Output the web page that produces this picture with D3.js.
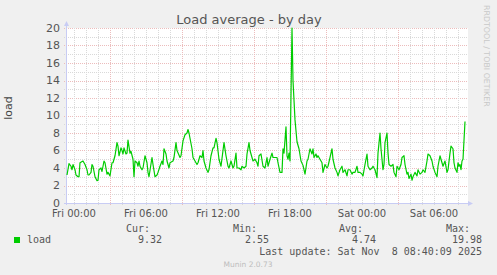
<!DOCTYPE html>
<html lang="en">
<head>
  <meta charset="UTF-8">
  <title>Load average - by day</title>
  <script src="https://d3js.org/d3.v7.min.js"></script>
  <style>
    body { margin: 0; background: #f0f0f0; }
    svg text { font-family: "DejaVu Sans", sans-serif; }
    svg .mono { font-family: "DejaVu Sans Mono", monospace; }
  </style>
</head>
<body>
  <script>
    // load samples: [minutes since Fri 00:00, load]
    var loadSeries = [
      [-35, 3.2], [-25, 4.5], [-15, 4.2], [-10, 3.8], [-5, 4.4], [5, 3.8], [10, 3.2], [20, 3.0], [25, 3.0], [30, 4.6],
      [45, 4.8], [55, 4.4], [65, 3.8], [70, 3.2], [75, 3.2], [85, 3.5], [90, 4.4], [95, 4.2], [105, 3.0], [115, 2.55],
      [120, 2.6], [125, 3.8], [135, 4.0], [140, 3.6], [150, 4.8], [155, 4.6], [165, 3.3], [170, 3.5], [180, 3.1], [190, 4.6],
      [195, 4.6], [205, 5.4], [215, 6.9], [220, 6.5], [225, 5.4], [235, 6.3], [240, 6.0], [245, 5.6], [250, 6.3], [260, 5.6],
      [265, 5.7], [270, 7.2], [280, 5.7], [285, 5.9], [295, 5.0], [300, 3.0], [305, 4.8], [315, 4.6], [320, 4.2], [325, 4.8],
      [330, 4.2], [340, 3.8], [345, 4.0], [355, 5.4], [365, 4.6], [370, 3.5], [375, 3.0], [390, 5.2], [395, 4.4], [405, 3.0],
      [415, 3.2], [420, 3.5], [430, 4.2], [440, 4.8], [445, 4.4], [450, 6.2], [460, 5.6], [465, 4.8], [475, 4.0], [480, 4.6],
      [495, 4.8], [500, 5.2], [510, 6.9], [515, 6.0], [530, 5.2], [535, 5.4], [545, 7.1], [555, 7.8], [565, 8.0], [570, 8.4],
      [575, 8.0], [590, 6.2], [595, 5.2], [605, 4.8], [615, 4.4], [620, 4.6], [630, 5.4], [640, 5.2], [645, 6.0], [650, 4.8],
      [660, 4.0], [670, 3.5], [675, 3.8], [685, 5.4], [695, 6.3], [700, 6.3], [710, 7.4], [715, 6.9], [725, 5.0], [735, 4.2],
      [745, 6.0], [750, 6.9], [760, 5.4], [770, 4.2], [775, 4.0], [785, 4.8], [795, 4.0], [800, 4.2], [810, 5.7], [815, 4.0],
      [825, 4.0], [835, 3.8], [840, 4.2], [850, 4.0], [860, 4.2], [865, 5.6], [875, 6.9], [880, 6.0], [890, 5.2], [895, 4.8],
      [905, 5.0], [915, 4.6], [920, 4.2], [925, 5.4], [935, 5.6], [945, 4.2], [955, 4.0], [965, 5.2], [970, 4.2], [980, 5.0],
      [990, 5.7], [995, 5.2], [1015, 5.2], [1020, 4.6], [1030, 3.5], [1040, 3.5], [1045, 6.2], [1050, 5.7], [1060, 8.7], [1065, 5.4],
      [1070, 5.0], [1075, 5.7], [1080, 4.8], [1090, 19.98], [1095, 14.0], [1105, 9.5], [1115, 7.0], [1125, 6.2], [1135, 4.8], [1145, 4.3],
      [1155, 3.3], [1165, 4.8], [1170, 5.0], [1180, 6.2], [1190, 5.6], [1195, 6.2], [1200, 5.2], [1210, 5.6], [1215, 5.2], [1220, 5.4],
      [1230, 5.0], [1240, 4.6], [1245, 3.5], [1255, 4.4], [1265, 4.0], [1270, 4.2], [1280, 5.2], [1290, 6.2], [1295, 5.0], [1305, 4.0],
      [1315, 3.5], [1320, 3.1], [1330, 3.8], [1340, 4.2], [1345, 3.5], [1355, 3.8], [1365, 3.1], [1370, 3.8], [1380, 3.8], [1390, 3.3],
      [1395, 3.5], [1405, 3.5], [1415, 4.2], [1420, 3.5], [1430, 3.5], [1440, 3.3], [1445, 3.1], [1455, 4.4], [1465, 5.6], [1470, 4.2],
      [1480, 3.8], [1490, 4.0], [1495, 4.2], [1505, 3.8], [1515, 2.9], [1520, 5.7], [1530, 8.0], [1535, 6.2], [1545, 3.8], [1550, 4.4],
      [1555, 6.9], [1565, 8.0], [1570, 5.7], [1575, 4.4], [1585, 4.2], [1595, 4.4], [1600, 3.5], [1610, 3.0], [1615, 4.2], [1625, 3.8],
      [1635, 4.4], [1640, 5.2], [1650, 5.4], [1655, 4.4], [1665, 3.3], [1670, 3.5], [1675, 2.8], [1685, 3.3], [1690, 2.6], [1695, 3.0],
      [1705, 3.5], [1715, 3.1], [1720, 3.8], [1730, 3.3], [1740, 3.5], [1745, 3.8], [1755, 3.5], [1765, 4.8], [1770, 5.6], [1780, 5.4],
      [1790, 4.8], [1795, 4.2], [1805, 3.5], [1815, 3.0], [1820, 4.2], [1830, 5.4], [1840, 4.6], [1845, 4.2], [1855, 4.8], [1865, 3.5],
      [1870, 3.8], [1880, 5.7], [1885, 6.5], [1895, 6.2], [1900, 4.6], [1905, 4.0], [1915, 3.5], [1920, 4.6], [1925, 4.2], [1930, 4.4],
      [1935, 3.8], [1940, 4.8], [1945, 5.0], [1955, 9.32]
    ];
    var yTicks = [0, 2, 4, 6, 8, 10, 12, 14, 16, 18, 20];
    var legendHeads = ["Cur:", "Min:", "Avg:", "Max:"];
    var legendVals = ["9.32", "2.55", "4.74", "19.98"];
    var seriesName = "load";
    var lastUpdate = "Last update: Sat Nov  8 08:40:09 2025";

    var w = 497, h = 275;
    var margin = { top: 28, right: 30, bottom: 72, left: 67 };
    var width = w - margin.left - margin.right,
      height = h - margin.top - margin.bottom;

    var t0 = new Date(2025, 10, 7, 0, 0);
    function tAt(m) { return new Date(t0.getTime() + m * 60000); }

    var x = d3.scaleTime().domain([tAt(-35), tAt(1965)]).range([0, width]);
    var y = d3.scaleLinear().domain([0, 20]).range([height, 0]);

    var svg = d3.select("body").append("svg")
      .attr("width", w)
      .attr("height", h);

    svg.append("rect").attr("width", w).attr("height", h).attr("fill", "#f0f0f0");

    // title + side texts
    svg.append("text")
      .attr("x", 249).attr("y", 24)
      .attr("text-anchor", "middle")
      .attr("font-size", 13)
      .attr("fill", "#555")
      .text("Load average - by day");

    svg.append("text")
      .attr("transform", "translate(12,108) rotate(-90)")
      .attr("text-anchor", "middle")
      .attr("font-size", 11)
      .attr("fill", "#444")
      .text("load");

    svg.append("text")
      .attr("transform", "translate(484,5) rotate(90)")
      .attr("font-size", 7.9)
      .attr("fill", "#c8c8c8")
      .text("RRDTOOL / TOBI OETIKER");

    var g = svg.append("g")
      .attr("transform", "translate(" + margin.left + "," + margin.top + ")");

    g.append("rect")
      .attr("width", width + 1)
      .attr("height", height)
      .attr("fill", "#fff");

    var majorColor = "#ecbcbc", minorColor = "#d9d9d9";

    // horizontal grid (minor every 1, major every 2)
    var yGrid = d3.range(1, 21);
    g.selectAll(".hgrid")
      .data(yGrid)
      .enter().append("line")
      .attr("x1", -3).attr("x2", width + 1)
      .attr("y1", function (d) { return Math.round(y(d)) + 0.5; })
      .attr("y2", function (d) { return Math.round(y(d)) + 0.5; })
      .attr("stroke", function (d) { return d % 2 == 0 ? majorColor : minorColor; })
      .attr("stroke-dasharray", "1,1");

    // vertical grid: hourly, major at 03/09/15/21
    var hours = d3.timeHour.range(x.domain()[0], x.domain()[1]);
    g.selectAll(".vgrid")
      .data(hours)
      .enter().append("line")
      .attr("x1", function (d) { return Math.round(x(d)) + 0.5; })
      .attr("x2", function (d) { return Math.round(x(d)) + 0.5; })
      .attr("y1", 0).attr("y2", height + 2)
      .attr("stroke", function (d) { return d.getHours() % 6 == 3 ? majorColor : minorColor; })
      .attr("stroke-dasharray", "1,1");

    // axis lines with arrows
    var axisColor = "#c8ccf4";
    g.append("line")
      .attr("x1", -0.5).attr("x2", -0.5)
      .attr("y1", height + 2).attr("y2", -3)
      .attr("stroke", axisColor);
    g.append("path")
      .attr("d", "M-3,-2 L2,-2 L-0.5,-7 Z")
      .attr("fill", axisColor);
    g.append("line")
      .attr("x1", -3).attr("x2", width + 3)
      .attr("y1", height + 0.5).attr("y2", height + 0.5)
      .attr("stroke", axisColor);
    g.append("path")
      .attr("d", "M" + (width + 1) + "," + (height - 2) + " L" + (width + 1) + "," + (height + 3) + " L" + (width + 6) + "," + (height + 0.5) + " Z")
      .attr("fill", axisColor);

    // y tick labels
    g.selectAll(".ylab")
      .data(yTicks)
      .enter().append("text")
      .attr("x", -7)
      .attr("y", function (d) { return y(d) + 3.5; })
      .attr("text-anchor", "end")
      .attr("font-size", 11)
      .attr("fill", "#555")
      .text(function (d) { return d; });

    // x tick labels every 6 hours
    var labelHours = hours.filter(function (d) { return d.getHours() % 6 == 0; });
    var fmt = d3.timeFormat("%a %H:%M");
    g.selectAll(".xlab")
      .data(labelHours)
      .enter().append("text")
      .attr("x", function (d) { return x(d); })
      .attr("y", height + 14)
      .attr("text-anchor", "middle")
      .attr("font-size", 10)
      .attr("fill", "#555")
      .text(function (d) { return fmt(d); });

    // the load line
    var line = d3.line()
      .x(function (d) { return x(tAt(d[0])); })
      .y(function (d) { return y(d[1]); });

    g.append("path")
      .datum(loadSeries)
      .attr("fill", "none")
      .attr("stroke", "#00cc00")
      .attr("stroke-width", 1.2)
      .attr("stroke-linejoin", "round")
      .attr("d", line);

    // legend
    var headX = [150, 257, 363, 470];
    var valX = [162, 269, 376, 482];
    svg.selectAll(".lhead")
      .data(legendHeads)
      .enter().append("text")
      .attr("class", "mono")
      .attr("x", function (d, i) { return headX[i]; })
      .attr("y", 232)
      .attr("text-anchor", "end")
      .attr("font-size", 10)
      .attr("fill", "#555")
      .text(function (d) { return d; });

    svg.selectAll(".lval")
      .data(legendVals)
      .enter().append("text")
      .attr("class", "mono")
      .attr("x", function (d, i) { return valX[i]; })
      .attr("y", 243)
      .attr("text-anchor", "end")
      .attr("font-size", 10)
      .attr("fill", "#555")
      .text(function (d) { return d; });

    svg.append("rect")
      .attr("x", 14).attr("y", 237)
      .attr("width", 6).attr("height", 6)
      .attr("fill", "#00cc00");

    svg.append("text")
      .attr("class", "mono")
      .attr("x", 27).attr("y", 243)
      .attr("font-size", 10)
      .attr("fill", "#555")
      .text(seriesName);

    svg.append("text")
      .attr("class", "mono")
      .attr("x", 482).attr("y", 255)
      .attr("text-anchor", "end")
      .attr("font-size", 10)
      .attr("fill", "#555")
      .attr("xml:space", "preserve")
      .style("white-space", "pre")
      .text(lastUpdate);

    svg.append("text")
      .attr("x", 248).attr("y", 267)
      .attr("text-anchor", "middle")
      .attr("font-size", 7.5)
      .attr("fill", "#bdbdbd")
      .text("Munin 2.0.73");
  </script>
</body>
</html>
